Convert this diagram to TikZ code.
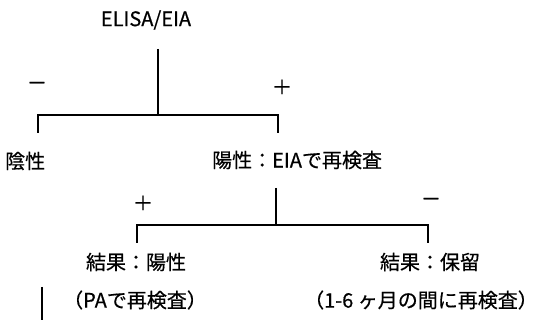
\documentclass[tikz,border=0pt]{standalone}
\usepackage{fontspec}
\setmainfont[FakeBold=0.6]{Noto Sans CJK JP}
\begin{document}
\begin{tikzpicture}[x=1pt,y=-1pt,
  lbl/.style={inner sep=0pt,font=\fontsize{20}{24}\selectfont},
  sgn/.style={inner sep=0pt,font=\fontsize{20}{24}\selectfont},
  br/.style={line width=1.6pt}]
\useasboundingbox (0,0) rectangle (539,320);
\node[lbl] (top) at (146,20) {ELISA/EIA};
\node[lbl,anchor=west] (neg) at (5,161) {陰性};
\node[lbl,anchor=west] (pos) at (212,160) {陽性：EIAで再検査};
\node[lbl] (r1) at (136,262) {結果：陽性};
\node[lbl] (r2) at (430,262) {結果：保留};
\node[lbl] (n1) at (135,300) {（PAで再検査）};
\node[lbl,anchor=east] (n2) at (538,300) {（1-6 ヶ月の間に再検査）};
\node[sgn] (s1) at (37,86) {－};
\node[sgn] (s2) at (282,87) {＋};
\node[sgn] (s3) at (143,203) {＋};
\node[sgn] (s4) at (431,202) {－};
\coordinate (a0) at (158,49);
\coordinate (a1) at (158,115);
\coordinate (al) at (38,115);
\coordinate (ar) at (278,115);
\coordinate (alb) at (38,133);
\coordinate (arb) at (278,133);
\coordinate (b0) at (276,188);
\coordinate (b1) at (276,225);
\coordinate (bl) at (137,225);
\coordinate (br) at (428,225);
\coordinate (blb) at (137,243);
\coordinate (brb) at (428,243);
\coordinate (c0) at (42,287);
\coordinate (c1) at (42,320);
\draw[br] (a0) -- (a1);
\draw[br] (alb) -- (al) -- (ar) -- (arb);
\draw[br] (b0) -- (b1);
\draw[br] (blb) -- (bl) -- (br) -- (brb);
\draw[br] (c0) -- (c1);
\end{tikzpicture}
\end{document}
